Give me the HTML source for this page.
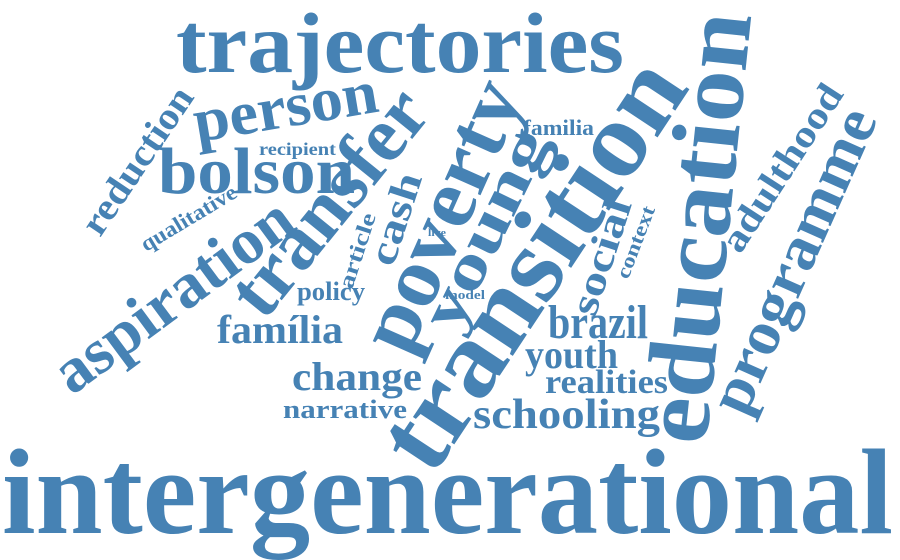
<!DOCTYPE html>
<html><head><meta charset="utf-8"><style>
html,body{margin:0;padding:0;background:#fff;width:900px;height:560px;overflow:hidden}
svg{display:block}
text{font-family:"Liberation Serif",serif;font-weight:bold;fill:#4682b4}
</style></head><body>
<svg width="900" height="560" viewBox="0 0 900 560">
<text x="2" y="533" font-size="122" textLength="891" lengthAdjust="spacingAndGlyphs">intergenerational</text>
<text x="176" y="72" font-size="86" textLength="448" lengthAdjust="spacingAndGlyphs">trajectories</text>
<text transform="translate(197,142) rotate(-9.5)" font-size="62" textLength="186" lengthAdjust="spacingAndGlyphs">person</text>
<text x="158" y="193" font-size="66" textLength="197" lengthAdjust="spacingAndGlyphs">bolson</text>
<text x="259" y="155" font-size="18" textLength="77" lengthAdjust="spacingAndGlyphs">recipient</text>
<text transform="translate(100,238) rotate(-56)" font-size="38" textLength="170" lengthAdjust="spacingAndGlyphs">reduction</text>
<text transform="translate(146,252) rotate(-31)" font-size="22" textLength="108" lengthAdjust="spacingAndGlyphs">qualitative</text>
<text transform="translate(72,396) rotate(-36.5)" font-size="64" textLength="282" lengthAdjust="spacingAndGlyphs">aspiration</text>
<text transform="translate(264,322) rotate(-51)" font-size="78" textLength="268" lengthAdjust="spacingAndGlyphs">transfer</text>
<text transform="translate(352,290) rotate(-72)" font-size="22" textLength="78" lengthAdjust="spacingAndGlyphs">article</text>
<text transform="translate(393,268) rotate(-72)" font-size="40" textLength="95" lengthAdjust="spacingAndGlyphs">cash</text>
<text transform="translate(408,358) rotate(-66)" font-size="85" textLength="288" lengthAdjust="spacingAndGlyphs">poverty</text>
<text transform="translate(456,335) rotate(-64)" font-size="62" textLength="217" lengthAdjust="spacingAndGlyphs">young</text>
<text transform="translate(432,478) rotate(-56.5)" font-size="108" textLength="468" lengthAdjust="spacingAndGlyphs">transition</text>
<text transform="translate(706,446) rotate(-84)" font-size="96" textLength="433" lengthAdjust="spacingAndGlyphs">education</text>
<text x="523" y="135" font-size="22" textLength="71" lengthAdjust="spacingAndGlyphs">familia</text>
<text x="428" y="236" font-size="11" textLength="18" lengthAdjust="spacingAndGlyphs">live</text>
<text x="445" y="299" font-size="13" textLength="40" lengthAdjust="spacingAndGlyphs">model</text>
<text x="297" y="300" font-size="26" textLength="68" lengthAdjust="spacingAndGlyphs">policy</text>
<text x="217" y="343" font-size="40" textLength="126" lengthAdjust="spacingAndGlyphs">família</text>
<text x="292" y="390" font-size="40" textLength="130" lengthAdjust="spacingAndGlyphs">change</text>
<text x="283" y="418" font-size="26" textLength="124" lengthAdjust="spacingAndGlyphs">narrative</text>
<text x="473" y="428" font-size="42" textLength="187" lengthAdjust="spacingAndGlyphs">schooling</text>
<text x="525" y="368" font-size="40" textLength="93" lengthAdjust="spacingAndGlyphs">youth</text>
<text x="545" y="393" font-size="34" textLength="123" lengthAdjust="spacingAndGlyphs">realities</text>
<text x="548" y="338" font-size="48" textLength="100" lengthAdjust="spacingAndGlyphs">brazil</text>
<text transform="translate(595,318) rotate(-72)" font-size="40" textLength="120" lengthAdjust="spacingAndGlyphs">social</text>
<text transform="translate(628,280) rotate(-69)" font-size="20" textLength="76" lengthAdjust="spacingAndGlyphs">context</text>
<text transform="translate(740,255) rotate(-57)" font-size="38" textLength="192" lengthAdjust="spacingAndGlyphs">adulthood</text>
<text transform="translate(745,418) rotate(-66)" font-size="62" textLength="327" lengthAdjust="spacingAndGlyphs">programme</text>
</svg>
</body></html>
